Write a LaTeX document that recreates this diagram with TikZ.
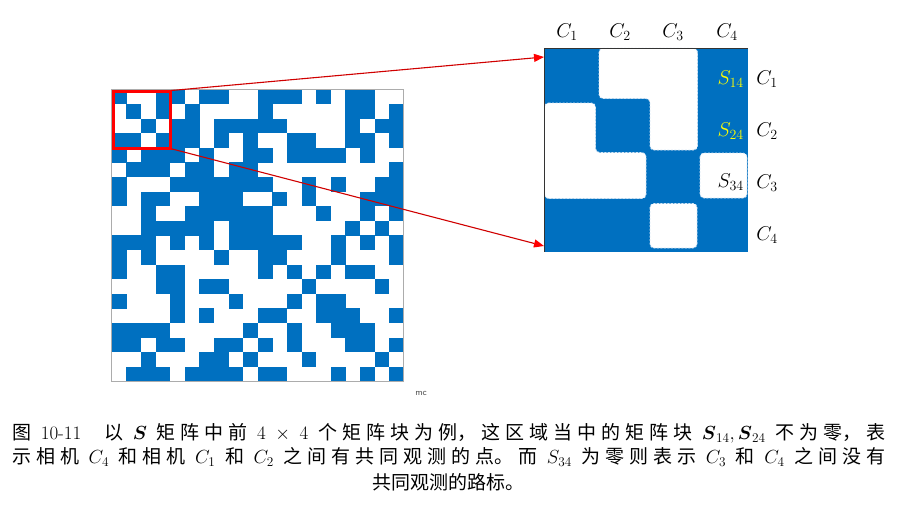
\RequirePackage{fix-cm}
\documentclass[tikz,border=0pt]{standalone}
\usepackage{amsmath}
\usepackage{fontspec}
\newfontfamily\cjk{Noto Sans CJK SC}
\usetikzlibrary{arrows.meta}
\definecolor{mblue}{HTML}{0070C0}
\definecolor{lred}{HTML}{D00000}
\definecolor{bred}{HTML}{FF0000}
\definecolor{mdash}{HTML}{D6E6F5}
\definecolor{syel}{HTML}{FFFF00}
\begin{document}
\begin{tikzpicture}[x=1pt,y=-1pt,
  wreg/.style={fill=white, draw=mdash, dash pattern=on 2pt off 1.5pt, line width=0.8pt, rounded corners=4pt},
  lab/.style={font=\fontsize{20}{24}\selectfont, inner sep=0pt},
  link/.style={draw=lred, line width=1.1pt, -{Triangle[length=10pt,width=8pt,color=bred]}},
  captext/.style={inner sep=0pt, font=\cjk\fontsize{19}{24.5}\selectfont}
]
\useasboundingbox (0,0) rectangle (898,517);
\fill[white] (0,0) rectangle (898,517);

% big S matrix (20 x 20)
\foreach \row [count=\r from 0] in {
 {1,0,0,1,1,0,1,1,0,0,1,1,1,0,1,0,1,1,0,0},
 {0,1,0,1,0,1,0,0,0,0,1,0,0,0,0,0,1,1,0,1},
 {0,0,1,0,1,1,0,1,1,1,1,1,0,0,0,0,1,0,1,1},
 {1,1,0,1,1,1,0,1,0,1,0,0,1,1,0,0,1,1,0,1},
 {1,0,1,1,1,0,1,0,0,1,1,0,1,1,1,1,0,1,0,0},
 {0,1,1,1,0,1,1,0,1,1,0,0,0,0,0,0,0,0,0,1},
 {1,0,0,0,1,1,1,1,1,1,1,0,0,1,0,1,0,0,1,1},
 {1,0,1,1,0,0,1,1,1,0,0,1,0,1,0,0,0,1,1,1},
 {0,0,1,0,0,1,1,1,1,1,1,0,0,0,1,0,0,1,0,1},
 {0,0,1,1,1,1,1,0,1,1,1,0,0,0,0,0,1,0,1,0},
 {1,1,1,0,1,0,1,0,1,1,1,1,1,0,0,1,0,1,0,1},
 {1,0,1,0,0,0,0,1,0,0,1,1,0,0,0,1,0,0,0,1},
 {1,0,0,1,1,0,0,0,0,0,1,0,1,0,1,0,1,1,0,0},
 {0,0,0,1,1,0,1,1,0,0,0,0,0,1,0,0,0,0,1,0},
 {1,0,0,0,1,0,0,0,1,0,0,0,1,0,1,1,0,0,0,0},
 {0,0,0,0,1,0,1,0,0,0,1,1,0,0,1,1,1,0,0,1},
 {1,1,1,1,0,0,0,0,0,1,0,0,1,0,0,1,1,1,0,0},
 {1,1,0,1,1,0,0,1,1,0,1,0,1,0,0,0,1,1,0,1},
 {0,0,1,0,0,0,1,1,0,1,0,0,0,1,0,0,0,0,1,0},
 {0,1,1,1,0,1,1,1,1,0,1,1,0,0,0,1,0,1,0,1}}{
  \foreach \v [count=\c from 0] in \row {
    \ifnum\v=1
      \fill[mblue] (111.7+14.6*\c, 89.3+14.6*\r) rectangle ++(14.9,14.9);
    \fi
  }
}
\draw[gray!65, line width=1.2pt] (111.7,89.3) rectangle (403.7,381.3);
\node[font=\sffamily\fontsize{9}{10}\selectfont, text=black!70, inner sep=0pt] (mc) at (421,393) {mc};

% red selection box
\draw[bred, line width=3pt] (113.2,91) rectangle (170.5,148.3);
\coordinate (bt) at (171.5,90.5);
\coordinate (bb) at (171.5,148.8);

% enlarged block
\fill[mblue] (544.5,48.3) rectangle (747.7,251.5);
\path[wreg] (599,48.3) -- (697.5,48.3) -- (697.5,150) -- (650,150) -- (650,98.5) -- (599,98.5) -- cycle;
\path[wreg] (544.5,103) -- (595.5,103) -- (595.5,152.5) -- (646,152.5) -- (646,198.5) -- (544.5,198.5) -- cycle;
\path[wreg] (700,153) rectangle (747,198);
\path[wreg] (650,203.5) rectangle (697,248);
\draw[line width=1.6pt, black!80] (544.5,251.5) -- (544.5,48.3) -- (747.7,48.3);
\coordinate (et) at (544,57);
\coordinate (eb) at (544,246);

\draw[link] (bt) -- (et);
\draw[link] (bb) -- (eb);

% labels
\node[lab] (c1) at (567,32) {$C_1$};
\node[lab] (c2) at (620,32) {$C_2$};
\node[lab] (c3) at (673,32) {$C_3$};
\node[lab] (c4) at (727,32) {$C_4$};
\node[lab] (r1) at (767,79) {$C_1$};
\node[lab] (r2) at (767,131) {$C_2$};
\node[lab] (r3) at (767,183) {$C_3$};
\node[lab] (r4) at (767,235) {$C_4$};
\node[lab, anchor=east, text=syel] (s14) at (744,79) {$S_{14}$};
\node[lab, anchor=east, text=syel] (s24) at (744,131) {$S_{24}$};
\node[lab, anchor=east] (s34) at (744,182) {$S_{34}$};

% caption
\node[captext, anchor=north west, text width=873pt, align=justify] (cap) at (12,423) {%
\XeTeXlinebreaklocale "zh"\XeTeXlinebreakskip=0pt plus 2pt\relax
图 {\rmfamily 10-11}\hspace{1.2em}以 $\boldsymbol{S}$ 矩阵中前 $4\times 4$ 个矩阵块为例，这区域当中的矩阵块 $\boldsymbol{S}_{14},\boldsymbol{S}_{24}$ 不为零，表\linebreak
示相机 $C_4$ 和相机 $C_1$ 和 $C_2$ 之间有共同观测的点。而 $S_{34}$ 为零则表示 $C_3$ 和 $C_4$ 之间没有\linebreak\mbox{}};
\node[captext] (cap3) at (448,482) {共同观测的路标。};
\end{tikzpicture}
\end{document}
